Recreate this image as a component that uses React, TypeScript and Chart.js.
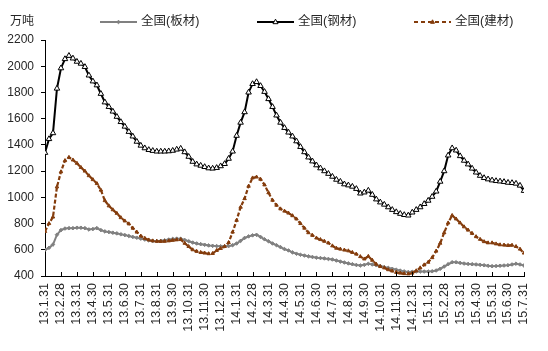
import React, { useEffect, useRef } from 'react';
import { Chart, registerables } from 'chart.js';

Chart.register(...registerables);

const FONT = "'Liberation Sans', 'Noto Sans CJK SC', sans-serif";
const TEXT_COLOR = '#262626';
const AXIS_COLOR = '#000000';

const unitLabel = '万吨';

const monthLabels = [
  '13.1.31', '13.2.28', '13.3.31', '13.4.30', '13.5.31', '13.6.30', '13.7.31', '13.8.31',
  '13.9.30', '13.10.31', '13.11.30', '13.12.31', '14.1.31', '14.2.28', '14.3.31', '14.4.30',
  '14.5.31', '14.6.30', '14.7.31', '14.8.31', '14.9.30', '14.10.31', '14.11.30', '14.12.31',
  '15.1.31', '15.2.28', '15.3.31', '15.4.30', '15.5.31', '15.6.30', '15.7.31',
];

// weekly readings (4 per month)
const weeksPerMonth = 4;

const seriesNames = ['全国(板材)', '全国(钢材)', '全国(建材)'];

const plate = [
  600, 615, 640, 715,
  750, 762, 765, 765,
  768, 768, 765, 755,
  758, 765, 750, 740,
  735, 730, 725, 718,
  712, 705, 698, 692,
  685, 678, 672, 667,
  666, 668, 672, 678,
  683, 685, 684, 675,
  665, 655, 648, 643,
  638, 633, 630, 628,
  627, 627, 628, 635,
  648, 668, 690, 702,
  710, 714, 698, 680,
  665, 648, 635, 620,
  605, 595, 580, 570,
  562, 556, 550, 545,
  540, 537, 534, 530,
  526, 518, 510, 503,
  496, 490, 484, 480,
  485, 493, 488, 482,
  476, 468, 462, 455,
  448, 441, 435, 430,
  432, 434, 434, 434,
  434, 436, 442, 455,
  472, 490, 505, 505,
  500, 495, 492, 490,
  488, 485, 482, 478,
  475, 476, 478, 480,
  482, 488, 494, 488,
  480,
];

const steel = [
  1340, 1445, 1490, 1830,
  1985, 2055, 2080, 2060,
  2035, 2020, 1995, 1930,
  1885, 1855, 1790, 1725,
  1690, 1655, 1615, 1575,
  1540, 1500, 1465, 1425,
  1395, 1375, 1362, 1355,
  1350, 1350, 1350, 1352,
  1356, 1365, 1372, 1345,
  1310, 1272, 1252, 1242,
  1232, 1222, 1220, 1225,
  1238, 1255, 1295, 1350,
  1470, 1570, 1650, 1800,
  1865, 1880, 1850, 1805,
  1750, 1690, 1625, 1570,
  1530, 1495, 1465, 1428,
  1385, 1345, 1305, 1275,
  1245, 1222, 1200, 1180,
  1158, 1135, 1120, 1100,
  1092, 1082, 1065, 1030,
  1038, 1052, 1020, 985,
  962, 945, 925, 905,
  888, 875, 866, 862,
  885, 905, 925, 950,
  975, 1005, 1045, 1120,
  1200, 1320, 1375, 1358,
  1315, 1280, 1252, 1220,
  1190, 1165, 1148, 1138,
  1130, 1125, 1122, 1118,
  1112, 1110, 1105, 1090,
  1050,
];

const construction = [
  740, 800, 850, 1080,
  1195, 1280, 1305, 1285,
  1260, 1228, 1200, 1165,
  1135, 1105, 1055, 975,
  935, 905, 878, 845,
  820, 798, 765, 735,
  705, 688, 675, 668,
  665, 664, 665, 668,
  672, 676, 678, 650,
  625, 600, 588, 580,
  575, 570, 572, 595,
  610, 625, 655, 735,
  825, 925, 990, 1085,
  1148, 1155, 1138, 1095,
  1035, 978, 940, 912,
  895, 880, 860, 835,
  800, 765, 730, 710,
  690, 678, 665, 652,
  630, 612, 605, 598,
  592, 580, 567, 548,
  530, 550, 520, 490,
  472, 462, 448, 438,
  428, 422, 418, 416,
  422, 440, 462, 485,
  505, 540, 590, 650,
  730, 805, 862, 835,
  805, 775, 750, 725,
  700, 680, 662, 653,
  653, 645, 638, 636,
  633, 635, 625, 605,
  575,
];

const yMin = 400;
const yMax = 2200;
const yStep = 200;

const PLATE_COLOR = '#808080';
const STEEL_COLOR = '#000000';
const CONS_COLOR = '#843C0C';

const toPoints = (arr: number[]) => arr.map((v, i) => ({ x: i / weeksPerMonth, y: v }));

function drawMarker(ctx: CanvasRenderingContext2D, style: string, x: number, y: number, r: number, fill: string, stroke: string, lw: number) {
  ctx.save();
  ctx.beginPath();
  if (style === 'triangle') {
    ctx.moveTo(x, y - r);
    ctx.lineTo(x + r * 0.9, y + r * 0.6);
    ctx.lineTo(x - r * 0.9, y + r * 0.6);
    ctx.closePath();
  } else {
    ctx.moveTo(x, y - r);
    ctx.lineTo(x + r, y);
    ctx.lineTo(x, y + r);
    ctx.lineTo(x - r, y);
    ctx.closePath();
  }
  ctx.fillStyle = fill;
  ctx.fill();
  ctx.lineWidth = lw;
  ctx.strokeStyle = stroke;
  ctx.stroke();
  ctx.restore();
}

const legendLayout = [
  { x: 100, marker: 'rectRot', r: 1.8, fill: PLATE_COLOR, stroke: PLATE_COLOR, dash: [] as number[] },
  { x: 257, marker: 'triangle', r: 2.8, fill: '#ffffff', stroke: STEEL_COLOR, dash: [] as number[] },
  { x: 414, marker: 'triangle', r: 2.2, fill: CONS_COLOR, stroke: CONS_COLOR, dash: [4, 3] },
];

const legendPlugin = {
  id: 'customLegend',
  afterDraw(chart: any) {
    const ctx: CanvasRenderingContext2D = chart.ctx;
    const ly = 22;
    ctx.save();
    ctx.fillStyle = TEXT_COLOR;
    ctx.textBaseline = 'middle';
    ctx.textAlign = 'left';
    ctx.font = `12px ${FONT}`;
    ctx.fillText(unitLabel, 10, ly);
    ctx.font = `12.5px ${FONT}`;
    chart.data.datasets.forEach((ds: any, i: number) => {
      const item = legendLayout[i];
      const w = 37;
      ctx.save();
      ctx.strokeStyle = ds.borderColor;
      ctx.lineWidth = 2;
      ctx.setLineDash(item.dash);
      ctx.beginPath();
      ctx.moveTo(item.x, ly);
      ctx.lineTo(item.x + w, ly);
      ctx.stroke();
      ctx.restore();
      drawMarker(ctx, item.marker, item.x + w / 2, ly, item.r, item.fill, item.stroke, 1);
      ctx.fillStyle = TEXT_COLOR;
      ctx.fillText(ds.label, item.x + w + 4, ly);
    });
    ctx.restore();
  },
};

const innerTicksPlugin = {
  id: 'innerTicks',
  afterDraw(chart: any) {
    const xs = chart.scales.x;
    const ctx: CanvasRenderingContext2D = chart.ctx;
    const bottom = chart.chartArea.bottom;
    ctx.save();
    ctx.strokeStyle = AXIS_COLOR;
    ctx.lineWidth = 1;
    ctx.beginPath();
    xs.ticks.forEach((t: any) => {
      const px = Math.round(xs.getPixelForValue(t.value)) + 0.5;
      ctx.moveTo(px, bottom);
      ctx.lineTo(px, bottom - 4);
    });
    ctx.stroke();
    ctx.restore();
  },
};

export default function App() {
  const ref = useRef<HTMLCanvasElement>(null);

  useEffect(() => {
    document.body.style.margin = '0';
    if (!ref.current) return;
    const chart = new Chart(ref.current, {
      type: 'line',
      data: {
        datasets: [
          {
            label: seriesNames[0],
            data: toPoints(plate),
            borderColor: PLATE_COLOR,
            backgroundColor: PLATE_COLOR,
            borderWidth: 2,
            pointStyle: 'rectRot',
            pointRadius: 1.8,
            pointBorderWidth: 1,
            pointBackgroundColor: PLATE_COLOR,
            pointBorderColor: PLATE_COLOR,
            tension: 0,
            order: 2,
          },
          {
            label: seriesNames[1],
            data: toPoints(steel),
            borderColor: STEEL_COLOR,
            backgroundColor: '#ffffff',
            borderWidth: 2,
            pointStyle: 'triangle',
            pointRadius: 3.2,
            pointBorderWidth: 1,
            pointBackgroundColor: '#ffffff',
            pointBorderColor: STEEL_COLOR,
            tension: 0,
            order: 1,
          },
          {
            label: seriesNames[2],
            data: toPoints(construction),
            borderColor: CONS_COLOR,
            backgroundColor: CONS_COLOR,
            borderWidth: 2.2,
            borderDash: [4, 2],
            pointStyle: 'triangle',
            pointRadius: 2,
            pointBorderWidth: 1,
            pointBackgroundColor: CONS_COLOR,
            pointBorderColor: CONS_COLOR,
            tension: 0,
            order: 0,
          },
        ],
      },
      options: {
        responsive: false,
        animation: false,
        devicePixelRatio: 1,
        layout: { padding: { left: 0, top: 40, right: 24, bottom: 0 } },
        plugins: {
          legend: { display: false },
          tooltip: { enabled: false },
          title: { display: false },
        },
        scales: {
          x: {
            type: 'linear',
            min: 0,
            max: monthLabels.length - 1,
            grid: { display: false, drawTicks: false },
            border: { display: true, color: AXIS_COLOR, width: 1 },
            ticks: {
              stepSize: 1,
              autoSkip: false,
              maxRotation: 90,
              minRotation: 90,
              padding: 7,
              color: TEXT_COLOR,
              font: { family: FONT, size: 12.5 },
              callback: (v: any) => monthLabels[Math.round(Number(v))] ?? '',
            },
            afterFit: (s: any) => { s.height = 75; },
          },
          y: {
            min: yMin,
            max: yMax,
            grid: { display: true, drawOnChartArea: false, drawTicks: true, tickLength: 4, color: AXIS_COLOR },
            border: { display: true, color: AXIS_COLOR, width: 1 },
            ticks: {
              stepSize: yStep,
              padding: 7,
              color: TEXT_COLOR,
              font: { family: FONT, size: 12 },
              callback: (v: any) => String(v),
            },
            afterFit: (s: any) => { s.width = 45; },
          },
        },
      },
      plugins: [legendPlugin, innerTicksPlugin],
    });
    return () => chart.destroy();
  }, []);

  return (
    <div style={{ width: 548, height: 351, position: 'relative', background: '#fff' }}>
      <canvas ref={ref} width={548} height={351} style={{ display: 'block', width: 548, height: 351 }} />
    </div>
  );
}
